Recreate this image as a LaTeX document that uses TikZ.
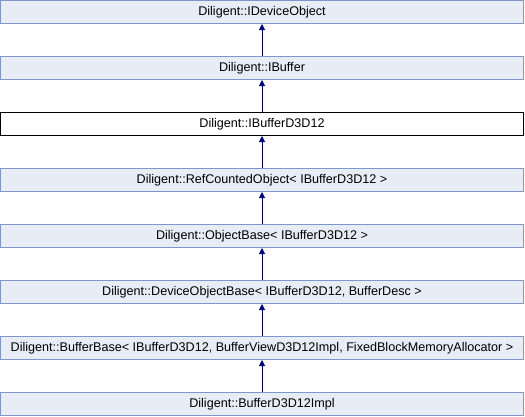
\documentclass[tikz,border=0pt]{standalone}
\usepackage{fontspec}
\setmainfont{Liberation Sans}
\usetikzlibrary{arrows.meta}
\definecolor{boxfill}{HTML}{E8ECF5}
\definecolor{boxline}{HTML}{7E96CC}
\definecolor{arrcol}{HTML}{000080}
\begin{document}
\begin{tikzpicture}[x=1pt,y=-1pt,
  cls/.style={draw=boxline,fill=boxfill,line width=1pt,minimum width=523pt,minimum height=23pt,inner sep=0pt,font=\fontsize{12.6}{14}\selectfont},
  cur/.style={cls,draw=black,fill=white},
  inh/.style={draw=arrcol,line width=1pt,-{Triangle[length=6pt,width=6pt]}}]
\useasboundingbox (0,0) rectangle (525,416);
\node[cls] (b1) at (262,12) {Diligent::IDeviceObject};
\node[cls] (b2) at (262,68) {Diligent::IBuffer};
\node[cur] (b3) at (262,124) {Diligent::IBufferD3D12};
\node[cls] (b4) at (262,180) {Diligent::RefCountedObject< IBufferD3D12 >};
\node[cls] (b5) at (262,236) {Diligent::ObjectBase< IBufferD3D12 >};
\node[cls] (b6) at (262,292) {Diligent::DeviceObjectBase< IBufferD3D12, BufferDesc >};
\node[cls] (b7) at (262,348) {Diligent::BufferBase< IBufferD3D12, BufferViewD3D12Impl, FixedBlockMemoryAllocator >};
\node[cls] (b8) at (262,404) {Diligent::BufferD3D12Impl};
\draw[inh] (b2.north) -- (b1.south);
\draw[inh] (b3.north) -- (b2.south);
\draw[inh] (b4.north) -- (b3.south);
\draw[inh] (b5.north) -- (b4.south);
\draw[inh] (b6.north) -- (b5.south);
\draw[inh] (b7.north) -- (b6.south);
\draw[inh] (b8.north) -- (b7.south);
\end{tikzpicture}
\end{document}
